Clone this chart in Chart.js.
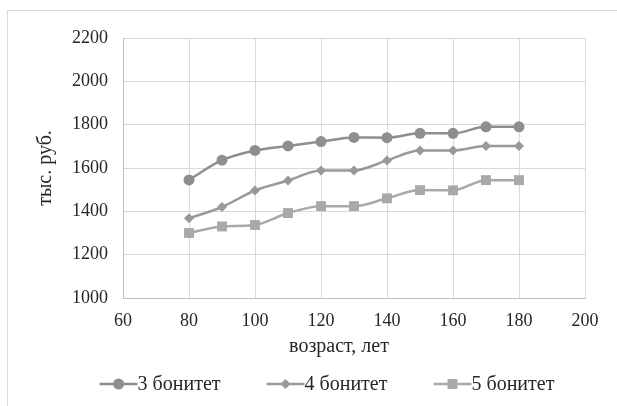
<!DOCTYPE html>
<html>
<head>
<meta charset="utf-8">
<script src="https://cdn.jsdelivr.net/npm/chart.js@4/dist/chart.umd.min.js"></script>
<style>
    html, body { margin: 0; padding: 0; background: #fff; }
    #wrap { position: relative; width: 617px; height: 406px; overflow: hidden; }
    #frame { position: absolute; left: 7px; top: 10px; width: 700px; height: 500px; border: 1px solid #d9d9d9; }
    #chart { position: absolute; left: 0; top: 0; }
</style>
</head>
<body>
<div id="wrap">
    <div id="frame"></div>
    <canvas id="chart" width="617" height="406"></canvas>
</div>
<script>
// возраст, лет
const ages = [80, 90, 100, 110, 120, 130, 140, 150, 160, 170, 180];

// тыс. руб. по бонитетам
const bon3 = [1545, 1636, 1681, 1702, 1722, 1741, 1740, 1760, 1760, 1790, 1790];
const bon4 = [1368, 1420, 1496, 1542, 1589, 1589, 1635, 1681, 1681, 1701, 1701];
const bon5 = [1300, 1330, 1337, 1392, 1424, 1424, 1460, 1498, 1497, 1544, 1544];

const seriesNames = ['3 бонитет', '4 бонитет', '5 бонитет'];
const seriesColors = ['#8e8e8e', '#999999', '#a9a9a9'];
const pointStyles = ['circle', 'rectRot', 'rect'];
const pointSizes = [5.5, 5, 7];

const xTicks = { min: 60, max: 200, step: 20 };
const yTicks = { min: 1000, max: 2200, step: 200 };

const xTitle = 'возраст, лет';
const yTitle = 'тыс. руб.';

const FONT = '"Liberation Serif", "Times New Roman", serif';
const TEXT = '#262626';

function toPoints(values) {
    return ages.map((a, i) => ({ x: a, y: values[i] }));
}

function drawMarker(ctx, style, r, x, y, color) {
    ctx.fillStyle = color;
    ctx.beginPath();
    if (style === 'circle') {
        ctx.arc(x, y, r, 0, Math.PI * 2);
    } else if (style === 'rectRot') {
        ctx.moveTo(x, y - r);
        ctx.lineTo(x + r, y);
        ctx.lineTo(x, y + r);
        ctx.lineTo(x - r, y);
        ctx.closePath();
    } else {
        const s = r * Math.SQRT1_2;
        ctx.rect(x - s, y - s, s * 2, s * 2);
    }
    ctx.fill();
}

// Legend + x title drawn under the plot like in Excel
const bottomTexts = {
    id: 'bottomTexts',
    afterDraw(chart) {
        const ctx = chart.ctx;
        ctx.save();
        ctx.font = '20px ' + FONT;
        ctx.fillStyle = TEXT;
        ctx.textBaseline = 'middle';
        ctx.textAlign = 'center';
        ctx.fillText(xTitle, 339, 347);

        // legend
        const lineLen = 38;
        const gap = 46;
        const widths = seriesNames.map(n => lineLen + ctx.measureText(n).width);
        const total = widths.reduce((s, w) => s + w, 0) + gap * (widths.length - 1);
        let x = 327 - total / 2;
        const y = 384;
        ctx.textAlign = 'left';
        seriesNames.forEach((name, i) => {
            ctx.strokeStyle = seriesColors[i];
            ctx.lineWidth = 2.5;
            ctx.beginPath();
            ctx.moveTo(x, y);
            ctx.lineTo(x + lineLen, y);
            ctx.stroke();
            drawMarker(ctx, pointStyles[i], pointSizes[i], x + lineLen / 2, y, seriesColors[i]);
            ctx.fillStyle = TEXT;
            ctx.fillText(name, x + lineLen, y + 1);
            x += widths[i] + gap;
        });
        ctx.restore();
    }
};

const datasets = [bon3, bon4, bon5].map((vals, i) => ({
    label: seriesNames[i],
    data: toPoints(vals),
    borderColor: seriesColors[i],
    backgroundColor: seriesColors[i],
    borderWidth: 2.5,
    pointStyle: pointStyles[i],
    pointRadius: pointSizes[i],
    pointBorderWidth: 0,
    tension: 0.3,
    cubicInterpolationMode: 'monotone'
}));

new Chart(document.getElementById('chart'), {
    type: 'line',
    data: { datasets },
    options: {
        responsive: false,
        animation: false,
        layout: { padding: { top: 38, right: 32, left: 0, bottom: 406 - 298 - 30 } },
        plugins: { legend: { display: false }, tooltip: { enabled: false } },
        scales: {
            x: {
                type: 'linear',
                min: xTicks.min,
                max: xTicks.max,
                afterFit: s => { s.height = 30; },
                ticks: {
                    stepSize: xTicks.step,
                    padding: 12,
                    maxRotation: 0,
                    color: TEXT,
                    callback: v => String(v),
                    font: { family: FONT, size: 18 }
                },
                grid: { color: '#d9d9d9', lineWidth: 1, drawTicks: false },
                border: { color: '#bfbfbf', width: 1 }
            },
            y: {
                min: yTicks.min,
                max: yTicks.max,
                afterFit: s => { s.width = 123; },
                ticks: {
                    stepSize: yTicks.step,
                    padding: 15,
                    color: TEXT,
                    callback: v => String(v),
                    font: { family: FONT, size: 18 }
                },
                grid: { color: '#d9d9d9', lineWidth: 1, drawTicks: false },
                border: { color: '#bfbfbf', width: 1 },
                title: {
                    display: true,
                    text: yTitle,
                    color: TEXT,
                    padding: { top: 34, bottom: 0 },
                    font: { family: FONT, size: 20 }
                }
            }
        }
    },
    plugins: [bottomTexts]
});
</script>
</body>
</html>
